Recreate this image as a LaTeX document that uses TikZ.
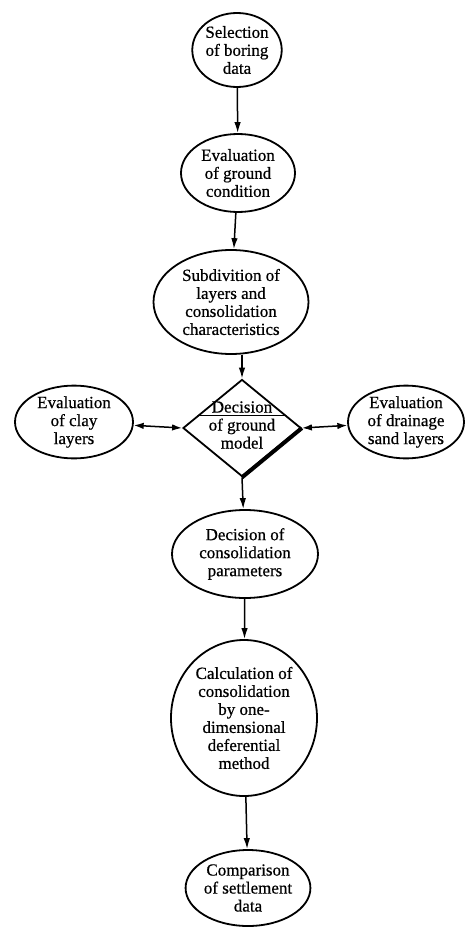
\documentclass[tikz,border=0pt]{standalone}
\usepackage{fontspec}
\setmainfont{Liberation Serif}[FakeBold=0.6]
\usetikzlibrary{shapes.geometric,arrows.meta,calc}
\tikzset{
  oval/.style={ellipse, draw, line width=1.8pt, inner sep=0pt, align=center,
    font=\fontsize{17}{18}\selectfont},
  arr/.style={line width=1.5pt, -{Latex[length=11pt,width=6.5pt]}},
  darr/.style={line width=1.5pt, {Latex[length=10pt,width=6.5pt]}-{Latex[length=10pt,width=6.5pt]}},
  txt/.style={align=center, inner sep=0pt, font=\fontsize{17}{18}\selectfont}
}
\begin{document}
\begin{tikzpicture}[x=1pt,y=-1pt]
\useasboundingbox (0,0) rectangle (465,928);
\node[oval, minimum width=84pt, minimum height=74pt] (s1) at (237,50) {Selection\\of boring\\data};
\node[oval, minimum width=114pt, minimum height=78pt] (s2) at (238,173) {Evaluation\\of ground\\condition};
\node[oval, minimum width=155pt, minimum height=104pt] (s3) at (231,302) {Subdivition of\\layers and\\consolidation\\characteristics};
\node[diamond, draw, line width=1.8pt, inner sep=0pt, minimum width=118pt, minimum height=97pt] (d) at (242,428) {};
\node[txt] (dt) at (242,425) {Decision\\of ground\\model};
\draw[line width=4pt] (d.east) -- (d.south);
\draw[line width=1pt] ($(d.west)!0.26!(d.north)$) coordinate (u1) -- ($(d.east)!0.26!(d.north)$) coordinate (u2);
\node[oval, minimum width=118pt, minimum height=66pt] (L) at (74,422) {Evaluation\\of clay\\layers};
\node[oval, minimum width=116pt, minimum height=66pt] (R) at (406,422) {Evaluation\\of drainage\\sand layers};
\node[oval, minimum width=146pt, minimum height=88pt] (s5) at (245,554) {Decision of\\consolidation\\parameters};
\node[oval, minimum width=146pt, minimum height=156pt] (s6) at (244,718) {Calculation of\\consolidation\\by one-\\dimensional\\deferential\\method};
\node[oval, minimum width=116pt, minimum height=76pt] (s7) at (248,888) {Comparison\\of settlement\\data};
\draw[arr] (s1) -- (s2);
\draw[arr] (s2) -- (s3);
\draw[arr] (d.north |- s3.south) -- (d.north);
\draw[darr] (L) -- (d.west);
\draw[darr] (d.east) -- (R);
\draw[arr] (d.south) -- (s5);
\draw[arr] (s5) -- (s6);
\draw[arr] (s6) -- (s7);
\end{tikzpicture}
\end{document}
